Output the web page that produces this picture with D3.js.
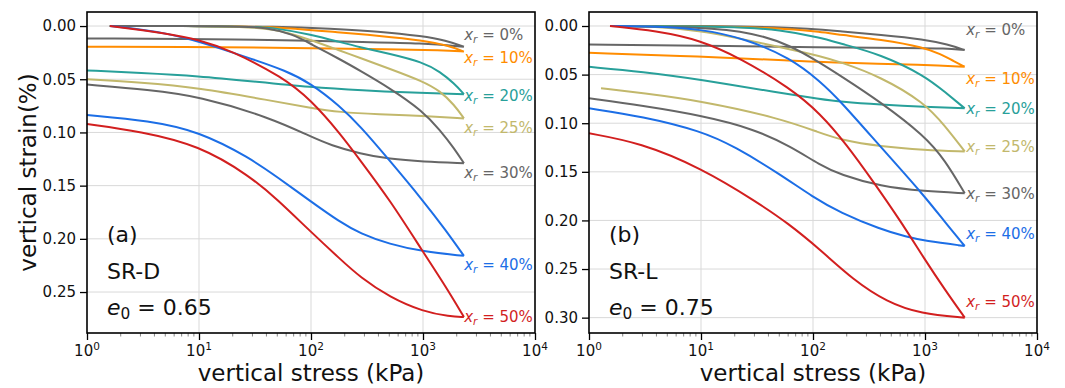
<!DOCTYPE html>
<html>
<head>
<meta charset="utf-8">
<script src="https://cdn.jsdelivr.net/npm/d3@7"></script>
<style>
  body { margin: 0; background: #fff; }
  svg { display: block; font-family: 'DejaVu Sans', sans-serif; }
</style>
</head>
<body>
<svg id="chart" width="1065" height="388"></svg>
<script>
// series: replacement ratio x_r
const seriesNames = ['0%', '10%', '20%', '25%', '30%', '40%', '50%'];
const seriesColors = ['#666666', '#ff8c00', '#28a09a', '#c2b86c', '#666666', '#1c6ee6', '#d21f1f'];

const stressTicks = [1, 10, 100, 1000, 10000];
const strainTicksA = [0, 0.05, 0.1, 0.15, 0.2, 0.25];
const strainTicksB = [0, 0.05, 0.1, 0.15, 0.2, 0.25, 0.3];
const strainRangeA = [-0.0132, 0.2885];
const strainRangeB = [-0.0144, 0.3158];

// [stress kPa, strain %] — loading branch, panel (a) SR-D
const loadingA = [
  [[1.6, 0], [10, 0], [50, 0.0005], [150, 0.0025], [400, 0.005], [1000, 0.0095], [1600, 0.0135], [2320, 0.0195]],
  [[1.6, 0], [20, 0], [60, 0.0015], [180, 0.006], [400, 0.009], [1000, 0.0135], [1700, 0.0185], [2320, 0.024]],
  [[1.6, 0], [25, 0], [50, 0.002], [100, 0.008], [180, 0.015], [275, 0.020], [500, 0.026], [1000, 0.034], [1420, 0.043], [1900, 0.054], [2320, 0.064]],
  [[1.6, 0], [20, 0], [46, 0.002], [100, 0.013], [180, 0.023], [275, 0.030], [500, 0.040], [1000, 0.052], [1420, 0.061], [1900, 0.074], [2320, 0.0868]],
  [[1.6, 0], [20, 0], [40, 0.001], [70, 0.008], [100, 0.017], [180, 0.031], [275, 0.042], [500, 0.058], [1000, 0.080], [1420, 0.098], [1900, 0.115], [2320, 0.129]],
  [[1.6, 0], [3, 0.003], [5.2, 0.007], [10, 0.0145], [28, 0.030], [60, 0.042], [100, 0.054], [180, 0.075], [275, 0.094], [500, 0.126], [1000, 0.164], [1600, 0.192], [2320, 0.216]],
  [[1.6, 0], [5.2, 0.007], [10, 0.013], [19, 0.0226], [56, 0.048], [100, 0.0696], [182, 0.101], [274, 0.126], [506, 0.1635], [1004, 0.2125], [1600, 0.245], [2320, 0.2735]]
];
// unloading branch, panel (a)
const unloadingA = [
  [[2320, 0.0195], [1000, 0.016], [275, 0.015], [100, 0.0138], [30, 0.0125], [1, 0.0116]],
  [[2320, 0.024], [1500, 0.0228], [500, 0.0218], [100, 0.0208], [20, 0.0198], [1, 0.0194]],
  [[2320, 0.064], [1000, 0.063], [275, 0.0605], [100, 0.0576], [30, 0.052], [10, 0.047], [3, 0.044], [1, 0.0417]],
  [[2320, 0.0868], [1000, 0.0845], [400, 0.083], [180, 0.081], [100, 0.077], [43, 0.070], [10, 0.058], [3, 0.053], [1, 0.050]],
  [[2320, 0.129], [1000, 0.1275], [500, 0.125], [275, 0.120], [150, 0.112], [100, 0.104], [43, 0.086], [10, 0.066], [3.6, 0.060], [1, 0.055]],
  [[2320, 0.216], [1000, 0.212], [500, 0.205], [275, 0.195], [180, 0.184], [100, 0.165], [50, 0.142], [28.5, 0.124], [10, 0.099], [3.6, 0.089], [1, 0.0836]],
  [[2320, 0.2735], [1740, 0.273], [1004, 0.2685], [506, 0.255], [274, 0.236], [182, 0.219], [101, 0.194], [50, 0.163], [28.5, 0.141], [10, 0.112], [3, 0.099], [1, 0.092]]
];

// loading branch, panel (b) SR-L
const loadingB = [
  [[1.54, 0], [30, 0], [100, 0.003], [175, 0.0055], [400, 0.009], [993, 0.0137], [1600, 0.019], [2263, 0.0247]],
  [[1.54, 0], [20, 0.0005], [60, 0.003], [116, 0.006], [175, 0.009], [400, 0.014], [993, 0.022], [1373, 0.029], [1800, 0.036], [2263, 0.0419]],
  [[1.54, 0], [20, 0.0005], [51, 0.004], [116, 0.012], [175, 0.018], [399, 0.029], [993, 0.051], [1510, 0.068], [2263, 0.0847]],
  [[1.54, 0], [3.5, 0], [10, 0.005], [22.4, 0.013], [63, 0.024], [116, 0.031], [175, 0.037], [399, 0.052], [993, 0.079], [1510, 0.103], [2263, 0.129]],
  [[1.54, 0], [10, 0.001], [30, 0.007], [63, 0.020], [116, 0.038], [175, 0.051], [399, 0.078], [993, 0.113], [1510, 0.138], [2263, 0.172]],
  [[1.54, 0], [4, 0.0005], [9.8, 0.003], [25, 0.013], [62.8, 0.033], [116, 0.057], [175, 0.077], [399, 0.124], [993, 0.175], [1510, 0.202], [2263, 0.2263]],
  [[1.54, 0], [4, 0.005], [9.8, 0.0144], [22.4, 0.033], [62.8, 0.064], [116, 0.090], [200, 0.122], [345, 0.160], [600, 0.200], [993, 0.240], [1500, 0.271], [2263, 0.300]]
];
// unloading branch, panel (b)
const unloadingB = [
  [[2263, 0.0247], [1500, 0.023], [800, 0.0225], [116, 0.0222], [10, 0.020], [1, 0.019]],
  [[2263, 0.0419], [993, 0.040], [175, 0.038], [63, 0.0355], [10, 0.0315], [1, 0.0275]],
  [[2263, 0.0847], [993, 0.083], [399, 0.081], [175, 0.078], [116, 0.075], [51, 0.069], [10, 0.055], [3, 0.047], [1, 0.042]],
  [[2263, 0.129], [993, 0.1276], [399, 0.124], [175, 0.117], [116, 0.110], [51, 0.095], [10, 0.077], [3, 0.069], [1.28, 0.064]],
  [[2263, 0.172], [993, 0.170], [399, 0.165], [175, 0.153], [116, 0.143], [63, 0.124], [30, 0.106], [10, 0.092], [3, 0.082], [1, 0.0744]],
  [[2263, 0.2263], [993, 0.221], [688, 0.217], [399, 0.209], [175, 0.192], [100, 0.176], [50, 0.152], [20, 0.124], [10, 0.108], [3, 0.093], [1, 0.0847]],
  [[2263, 0.300], [913, 0.296], [458, 0.284], [228, 0.261], [116, 0.230], [60, 0.203], [31.5, 0.181], [10, 0.146], [2.86, 0.120], [1, 0.1104]]
];

// where each x_r label sits (stress kPa, strain %)
const labelStress = 2330;
const labelStrainA = [0.0085, 0.030, 0.065, 0.095, 0.138, 0.2246, 0.2735];
const labelStrainB = [0.004, 0.0538, 0.0847, 0.124, 0.172, 0.2133, 0.2836];

const panelTags = ['(a)', '(b)'];
const panelSoils = ['SR-D', 'SR-L'];
const panelVoids = ['0.65', '0.75'];

const svg = d3.select('#chart');
const plotTop = 12;
const plotBottom = 333;

const panels = [
  { left: 87, right: 535, range: strainRangeA, ticks: strainTicksA, load: loadingA, unload: unloadingA, labels: labelStrainA },
  { left: 589, right: 1037, range: strainRangeB, ticks: strainTicksB, load: loadingB, unload: unloadingB, labels: labelStrainB }
];

panels.forEach((p, pi) => {
  const x = d3.scaleLog().domain([stressTicks[0], stressTicks[stressTicks.length - 1]]).range([p.left, p.right]);
  const y = d3.scaleLinear().domain(p.range).range([plotTop, plotBottom]);
  const g = svg.append('g');

  const clipId = `clip-${pi}`;
  g.append('clipPath').attr('id', clipId).append('rect')
    .attr('x', p.left).attr('y', plotTop).attr('width', p.right - p.left).attr('height', plotBottom - plotTop);

  // grid
  g.append('g').selectAll('line').data(stressTicks.slice(1, -1)).join('line')
    .attr('x1', (d) => x(d)).attr('x2', (d) => x(d)).attr('y1', plotTop).attr('y2', plotBottom)
    .attr('stroke', '#d9d9d9').attr('stroke-width', 1);
  g.append('g').selectAll('line').data(p.ticks).join('line')
    .attr('x1', p.left).attr('x2', p.right).attr('y1', (d) => y(d)).attr('y2', (d) => y(d))
    .attr('stroke', '#d9d9d9').attr('stroke-width', 1);

  // curves: loading then unloading, sharp corner at the peak stress
  const line = d3.line().x((d) => x(d[0])).y((d) => y(d[1])).curve(d3.curveBasis);
  const curves = g.append('g').attr('clip-path', `url(#${clipId})`);
  seriesNames.forEach((name, i) => {
    curves.append('path').attr('d', line(p.load[i]) + line(p.unload[i]))
      .attr('fill', 'none').attr('stroke', seriesColors[i]).attr('stroke-width', 2)
      .attr('stroke-linejoin', 'miter');
  });

  // x_r labels
  seriesNames.forEach((name, i) => {
    const t = g.append('text').attr('x', x(labelStress)).attr('y', y(p.labels[i]) + 5.4)
      .attr('fill', seriesColors[i]).attr('font-size', 15);
    t.append('tspan').attr('font-style', 'italic').text('x');
    t.append('tspan').attr('font-style', 'italic').attr('font-size', 10.5).attr('dy', 3).text('r');
    t.append('tspan').attr('dy', -3).text(` = ${name}`);
  });

  // y axis
  const yAxis = g.append('g').attr('transform', `translate(${p.left},0)`)
    .call(d3.axisLeft(y).tickValues(p.ticks).tickFormat(d3.format('.2f')).tickSize(7).tickPadding(4));
  yAxis.select('.domain').remove();
  yAxis.selectAll('line').attr('stroke', '#000').attr('stroke-width', 1.3);
  yAxis.selectAll('text').attr('font-size', 15).attr('font-family', 'DejaVu Sans').attr('fill', '#111');

  // x axis: major and minor ticks
  const minor = [];
  for (let e = 0; e < 4; e++) for (let m = 2; m < 10; m++) minor.push(m * 10 ** e);
  const xAxis = g.append('g').attr('transform', `translate(0,${plotBottom})`)
    .call(d3.axisBottom(x).tickValues(stressTicks).tickFormat('').tickSize(7));
  xAxis.select('.domain').remove();
  xAxis.selectAll('line').attr('stroke', '#000').attr('stroke-width', 1.3);
  g.append('g').selectAll('line').data(minor).join('line')
    .attr('x1', (d) => x(d)).attr('x2', (d) => x(d)).attr('y1', plotBottom).attr('y2', plotBottom + 3.5)
    .attr('stroke', '#666').attr('stroke-width', 0.8);
  stressTicks.forEach((v) => {
    const t = g.append('text').attr('x', x(v)).attr('y', 356).attr('text-anchor', 'middle')
      .attr('font-size', 15).attr('fill', '#111');
    t.append('tspan').text('10');
    t.append('tspan').attr('font-size', 10.5).attr('dy', -6).text(String(Math.round(Math.log10(v))));
  });

  // spines
  g.append('rect').attr('x', p.left).attr('y', plotTop).attr('width', p.right - p.left).attr('height', plotBottom - plotTop)
    .attr('fill', 'none').attr('stroke', '#000').attr('stroke-width', 1.6);

  // x label
  g.append('text').attr('x', (p.left + p.right) / 2).attr('y', 381).attr('text-anchor', 'middle')
    .attr('font-size', 23).attr('fill', '#111').text('vertical stress (kPa)');

  // annotations
  const ax = p.left + 20;
  g.append('text').attr('x', ax).attr('y', 242).attr('font-size', 22).attr('fill', '#111').text(panelTags[pi]);
  g.append('text').attr('x', ax).attr('y', 279).attr('font-size', 22).attr('fill', '#111').text(panelSoils[pi]);
  const e0 = g.append('text').attr('x', ax).attr('y', 315).attr('font-size', 22).attr('fill', '#111');
  e0.append('tspan').attr('font-style', 'italic').text('e');
  e0.append('tspan').attr('font-size', 15.4).attr('dy', 4).text('0');
  e0.append('tspan').attr('dy', -4).text(` = ${panelVoids[pi]}`);
});

svg.append('text').attr('transform', `translate(35.5,${(plotTop + plotBottom) / 2}) rotate(-90)`)
  .attr('text-anchor', 'middle').attr('font-size', 23).attr('fill', '#111').text('vertical strain(%)');
</script>
</body>
</html>
